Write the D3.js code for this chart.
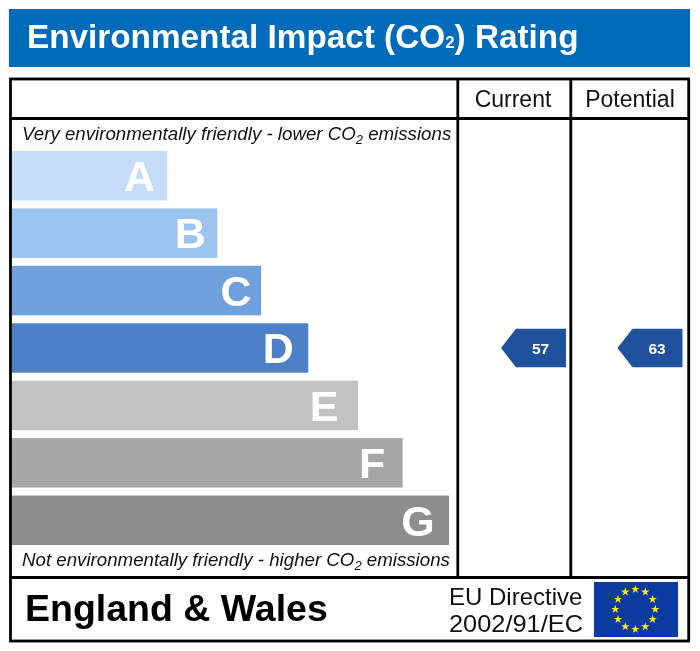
<!DOCTYPE html>
<html>
<head>
<meta charset="utf-8">
<style>
  html, body { margin: 0; padding: 0; background: #fff; }
  svg { display: block; filter: blur(0.35px); }
  text { font-family: "Liberation Sans", Arial, sans-serif; }
</style>
</head>
<body>
<svg id="chart" width="700" height="651"></svg>
<script src="https://cdn.jsdelivr.net/npm/d3@7"></script>
<script>
// bands and their bar length (share of the longest bar)
const bands = ['A', 'B', 'C', 'D', 'E', 'F', 'G'];
const bandLengths = [35.5, 47, 57, 67.8, 79.2, 89.4, 100];
const bandFloors = [92, 81, 69, 55, 39, 21, 1];
const bandColors = ['#c6ddfa', '#9cc4f0', '#6f9fdc', '#4e80c8', '#c2c2c2', '#a6a6a6', '#8d8d8d'];

const columns = ['Current', 'Potential'];
const ratings = [57, 63];

const svg = d3.select('#chart');

const x = d3.scaleLinear().domain([0, 100]).range([12, 449]);
const y = d3.scaleBand().domain(bands).range([151, 545]).paddingInner(0.139);
const colRight = d3.scaleOrdinal().domain(columns).range([566, 682.5]);
const colCenter = d3.scaleOrdinal().domain(columns).range([513, 630]);

// which band a rating falls in
const bandOf = (r) => bands[bandFloors.findIndex((f) => r >= f)];

// title
svg.append('rect').attr('x', 9).attr('y', 9).attr('width', 681).attr('height', 58).attr('fill', '#006bb8');
const title = svg.append('text').attr('x', 27).attr('y', 48)
  .attr('fill', '#fff').attr('font-weight', 'bold').attr('font-size', 33.3);
title.append('tspan').text('Environmental Impact (CO');
title.append('tspan').attr('font-size', 17).text('2');
title.append('tspan').text(') Rating');

// bars
svg.selectAll('rect.band')
  .data(bands)
  .enter()
  .append('rect')
  .attr('class', 'band')
  .attr('x', x(0))
  .attr('y', (d) => y(d))
  .attr('width', (d, i) => x(bandLengths[i]) - x(0))
  .attr('height', y.bandwidth())
  .attr('fill', (d, i) => bandColors[i]);

// the letters do not sit at a fixed distance from the bar end
const letterGap = [27.5, 27, 25, 30, 34, 30.5, 31];
svg.selectAll('text.letter')
  .data(bands)
  .enter()
  .append('text')
  .attr('class', 'letter')
  .attr('x', (d, i) => x(bandLengths[i]) - letterGap[i])
  .attr('y', (d) => y(d) + y.bandwidth() / 2 + 15.3)
  .attr('text-anchor', 'middle')
  .attr('fill', '#fff')
  .attr('font-weight', 'bold')
  .attr('font-size', 43)
  .text((d) => d);

// frame
const lines = [
  [10.5, 118.5, 688.7, 118.5],
  [10.5, 577.5, 688.7, 577.5],
  [457.8, 79, 457.8, 577.5],
  [570.8, 79, 570.8, 577.5],
];
svg.append('rect').attr('x', 10.5).attr('y', 79).attr('width', 678.2).attr('height', 562)
  .attr('fill', 'none').attr('stroke', '#000').attr('stroke-width', 2.8);
svg.selectAll('line.grid')
  .data(lines)
  .enter()
  .append('line')
  .attr('class', 'grid')
  .attr('x1', (d) => d[0]).attr('y1', (d) => d[1])
  .attr('x2', (d) => d[2]).attr('y2', (d) => d[3])
  .attr('stroke', '#000').attr('stroke-width', 2.8);

// column heads
svg.selectAll('text.head')
  .data(columns)
  .enter()
  .append('text')
  .attr('class', 'head')
  .attr('x', (d) => colCenter(d))
  .attr('y', 106.5)
  .attr('text-anchor', 'middle')
  .attr('font-size', 23)
  .attr('fill', '#111')
  .text((d) => d);

// top and bottom captions
function caption(px, py, before) {
  const t = svg.append('text').attr('x', px).attr('y', py)
    .attr('font-style', 'italic').attr('font-size', 18.7).attr('fill', '#111');
  t.append('tspan').text(before + ' CO');
  t.append('tspan').attr('dy', 4).attr('font-size', 13).text('2');
  t.append('tspan').attr('dy', -4).text(' emissions');
}
caption(22, 140, 'Very environmentally friendly - lower');
caption(22, 566, 'Not environmentally friendly - higher');

// rating arrows
const arrowH = 38.5;
const arrowW = 65;
const arrow = d3.line();
const arrows = svg.selectAll('g.rating')
  .data(ratings)
  .enter()
  .append('g')
  .attr('class', 'rating')
  .attr('transform', (d, i) => `translate(${colRight(columns[i])}, ${y(bandOf(d)) + y.bandwidth() / 2})`);
arrows.append('path')
  .attr('d', arrow([[0, -arrowH / 2], [-arrowW + 15, -arrowH / 2], [-arrowW, 0], [-arrowW + 15, arrowH / 2], [0, arrowH / 2]]) + 'Z')
  .attr('fill', '#1f519f');
arrows.append('text')
  .attr('x', -25.5)
  .attr('y', 5.5)
  .attr('text-anchor', 'middle')
  .attr('fill', '#fff')
  .attr('font-weight', 'bold')
  .attr('font-size', 15.5)
  .text((d) => d);

// footer
svg.append('text').attr('x', 25).attr('y', 620.5)
  .attr('font-weight', 'bold').attr('font-size', 37.5).attr('fill', '#000').text('England & Wales');
svg.append('text').attr('x', 449).attr('y', 604.5).attr('font-size', 24).attr('fill', '#111').text('EU Directive');
svg.append('text').attr('x', 449).attr('y', 631.5).attr('font-size', 24).attr('fill', '#111')
  .attr('textLength', 134).attr('lengthAdjust', 'spacingAndGlyphs').text('2002/91/EC');

// EU flag
svg.append('rect').attr('x', 594).attr('y', 582).attr('width', 84).attr('height', 55).attr('fill', '#0b3aa0');
const star = d3.symbol().type(d3.symbolStar).size(22);
svg.selectAll('path.star')
  .data(d3.range(12))
  .enter()
  .append('path')
  .attr('class', 'star')
  .attr('d', star)
  .attr('fill', '#ffe81a')
  .attr('transform', (d) => {
    const a = d * Math.PI / 6;
    return `translate(${635.3 + 20 * Math.sin(a)}, ${609.3 - 20 * Math.cos(a)})`;
  });
</script>
</body>
</html>
